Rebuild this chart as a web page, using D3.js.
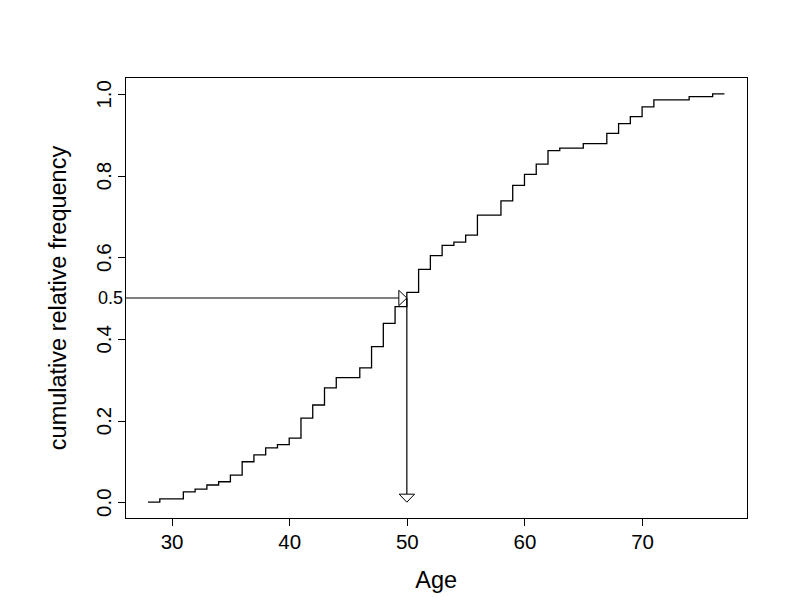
<!DOCTYPE html>
<html>
<head>
<meta charset="utf-8">
<script src="https://cdn.jsdelivr.net/npm/d3@7"></script>
<style>
  body { margin: 0; background: #ffffff; }
  svg { display: block; font-family: "Liberation Sans", Arial, sans-serif; }
</style>
</head>
<body>
<svg class="chart"></svg>
<script>
// DATA
var ages = [28, 29, 30, 31, 32, 33, 34, 35, 36, 37, 38, 39, 40, 41, 42, 43, 44, 45, 46, 47,
            48, 49, 50, 51, 52, 53, 54, 55, 56, 57, 58, 59, 60, 61, 62, 63, 64, 65, 66, 67,
            68, 69, 70, 71, 72, 73, 74, 75, 76, 77];
var cumFreq = [0.000, 0.008, 0.008, 0.025, 0.032, 0.042, 0.050, 0.066, 0.099, 0.116,
               0.133, 0.141, 0.157, 0.206, 0.238, 0.280, 0.305, 0.305, 0.329, 0.381,
               0.438, 0.479, 0.514, 0.570, 0.604, 0.629, 0.637, 0.654, 0.703, 0.703,
               0.738, 0.776, 0.803, 0.828, 0.861, 0.867, 0.867, 0.878, 0.878, 0.903,
               0.927, 0.944, 0.968, 0.985, 0.985, 0.985, 0.993, 0.993, 1.000, 1.000];
var xTicks = [30, 40, 50, 60, 70];
var yTicks = [0.0, 0.2, 0.4, 0.6, 0.8, 1.0];
var medianAge = 50;
var medianLevel = 0.5;

// GEOMETRY
var gwidth = 792, gheight = 611;
var box = {left: 125, right: 747.5, top: 77.5, bottom: 518.5};
var tickLen = 7;
var tickFont = "20.5px";
var headLen = 8, headHalf = 7.7; // arrow head size

var svg = d3.select(".chart")
  .attr("width", gwidth)
  .attr("height", gheight);

svg.append("rect")
  .attr("width", gwidth)
  .attr("height", gheight)
  .attr("fill", "white");

// R style 4% padding round the data range
var xPad = 0.04 * (d3.max(ages) - d3.min(ages));
var x = d3.scaleLinear()
  .domain([d3.min(ages) - xPad, d3.max(ages) + xPad])
  .range([box.left, box.right]);
var y = d3.scaleLinear()
  .domain([-0.04, 1.04])
  .range([box.bottom, box.top]);

// plot frame
svg.append("rect")
  .attr("x", box.left)
  .attr("y", box.top)
  .attr("width", box.right - box.left)
  .attr("height", box.bottom - box.top)
  .attr("fill", "none")
  .attr("stroke", "black")
  .attr("stroke-width", 1)
  .attr("shape-rendering", "crispEdges");

// x axis, sitting on the frame
var xAxis = d3.axisBottom(x)
  .tickValues(xTicks)
  .tickSize(tickLen)
  .tickPadding(9)
  .tickSizeOuter(0);
var xaxis = svg.append("g")
  .attr("transform", "translate(0," + box.bottom + ")")
  .call(xAxis);
xaxis.select(".domain").remove();
xaxis.selectAll(".tick line").attr("shape-rendering", "crispEdges");
xaxis.selectAll("text")
  .attr("fill", "black")
  .style("font-size", tickFont)
  .style("font-family", "Liberation Sans, Arial, sans-serif");

// y axis, labels turned parallel to the axis
var yAxis = d3.axisLeft(y)
  .tickValues(yTicks)
  .tickSize(tickLen)
  .tickFormat(d3.format(".1f"))
  .tickSizeOuter(0);
var yaxis = svg.append("g")
  .attr("transform", "translate(" + box.left + ",0)")
  .call(yAxis);
yaxis.select(".domain").remove();
yaxis.selectAll(".tick line").attr("shape-rendering", "crispEdges");
yaxis.selectAll("text")
  .attr("x", null)
  .attr("dy", null)
  .attr("transform", "translate(-14,0) rotate(-90)")
  .style("text-anchor", "middle")
  .attr("fill", "black")
  .style("font-size", tickFont)
  .style("font-family", "Liberation Sans, Arial, sans-serif");

// axis titles
svg.append("text")
  .attr("x", (box.left + box.right) / 2)
  .attr("y", 588)
  .style("text-anchor", "middle")
  .style("font-size", "23.5px")
  .text("Age");
svg.append("text")
  .attr("transform", "translate(66," + ((box.top + box.bottom) / 2) + ") rotate(-90)")
  .style("text-anchor", "middle")
  .style("font-size", "23.5px")
  .text("cumulative relative frequency");

// step curve of the cumulative frequencies
var stepLine = d3.line()
  .x(function(d, i) { return x(ages[i]); })
  .y(function(d) { return y(d); })
  .curve(d3.curveStepAfter);
svg.append("path")
  .datum(cumFreq)
  .attr("d", stepLine)
  .attr("fill", "none")
  .attr("stroke", "black")
  .attr("stroke-width", 1.3);

// median read-off: horizontal arrow from the axis, vertical arrow down
var mx = x(medianAge), my = y(medianLevel), m0 = y(0);
svg.append("line")
  .attr("x1", box.left).attr("y1", my)
  .attr("x2", mx - headLen).attr("y2", my)
  .attr("stroke", "black").attr("stroke-width", 1.2);
svg.append("polygon")
  .attr("points", [[mx - headLen, my - headHalf], [mx, my], [mx - headLen, my + headHalf]].join(" "))
  .attr("fill", "white").attr("stroke", "black").attr("stroke-width", 1);
svg.append("line")
  .attr("x1", mx).attr("y1", my)
  .attr("x2", mx).attr("y2", m0 - headLen)
  .attr("stroke", "black").attr("stroke-width", 1.2);
svg.append("polygon")
  .attr("points", [[mx - headHalf, m0 - headLen], [mx, m0], [mx + headHalf, m0 - headLen]].join(" "))
  .attr("fill", "white").attr("stroke", "black").attr("stroke-width", 1);

// extra label for the 0.5 level
svg.append("text")
  .attr("x", box.left - 2)
  .attr("y", my)
  .attr("dy", "0.36em")
  .style("text-anchor", "end")
  .style("font-size", "18px")
  .text(d3.format(".1f")(medianLevel));
</script>
</body>
</html>
